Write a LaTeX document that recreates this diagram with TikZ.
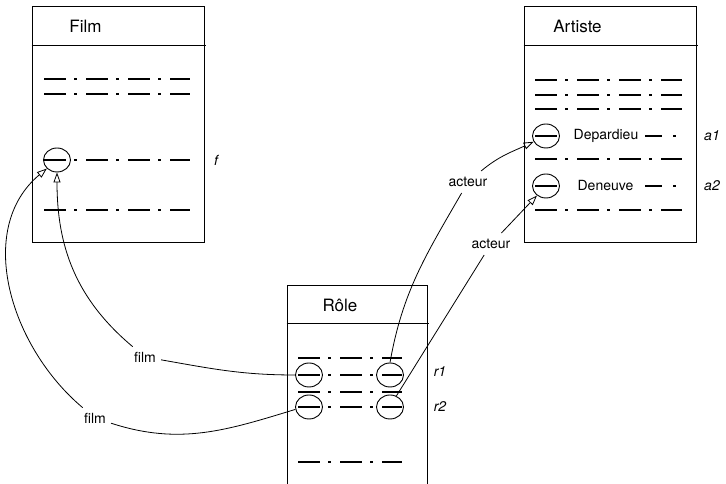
\documentclass[tikz,border=0pt]{standalone}
\usepackage{fontspec}
\setmainfont{TeX Gyre Heros}
\usetikzlibrary{arrows.meta, calc, positioning, shapes}

\tikzset{
  tablebox/.style={draw, line width=0.9pt, inner sep=0pt},
  headline/.style={line width=0.9pt},
  attrline/.style={line width=2.2pt, dash pattern=on 22pt off 8pt on 3pt off 9pt},
  keyoval/.style={draw, ellipse, line width=0.9pt, minimum width=27pt, minimum height=24pt, inner sep=0pt},
  tabletitle/.style={font=\fontsize{17}{20}\selectfont},
  valuetext/.style={font=\fontsize{14}{16}\selectfont, inner sep=1pt},
  linklabel/.style={font=\fontsize{14}{16}\selectfont, inner sep=6pt},
  tuplename/.style={font=\fontsize{14}{16}\selectfont\itshape},
  link/.style={line width=0.8pt},
  reflink/.style={line width=0.8pt, -{Triangle[open, length=10pt, width=7pt]}},
}

\begin{document}
\begin{tikzpicture}[x=1pt, y=1pt]
  \useasboundingbox (0,0) rectangle (726,484);

  % tables
  \node[tablebox, minimum width=172pt, minimum height=236pt] (Film) at (118,360) {};
  \node[tablebox, minimum width=172pt, minimum height=236pt] (Artiste) at (610,360) {};
  \node[tablebox, minimum width=140pt, minimum height=214pt] (Role) at (357,92) {};

  \draw[headline] ([yshift=-40pt]Film.north west) -- ([xshift=2pt, yshift=-40pt]Film.north east);
  \draw[headline] ([yshift=-40pt]Artiste.north west) -- ([xshift=2pt, yshift=-40pt]Artiste.north east);
  \draw[headline] ([yshift=-39pt]Role.north west) -- ([xshift=2pt, yshift=-39pt]Role.north east);

  \node[tabletitle] (FilmT) at (85.5,458) {Film};
  \node[tabletitle] (ArtisteT) at (577.5,458) {Artiste};
  \node[tabletitle] (RoleT) at (340,179) {Rôle};

  % Film rows
  \foreach \y in {405,390,324,274}
    \draw[attrline] (44,\y) -- (190,\y);
  \node[keyoval] (Fkey) at (57,324) {};
  \node[tuplename] (f) at (216,324) {f};

  % Artiste rows
  \foreach \y in {404,389,375,325,274}
    \draw[attrline] (535,\y) -- (682,\y);
  \draw[attrline] (535,348) -- (557,348);
  \draw[attrline] (535,298) -- (557,298);
  \node[keyoval] (Adep) at (546,348) {};
  \node[keyoval] (Aden) at (546,298) {};
  \node[valuetext] (Dep) at (606,348) {Depardieu};
  \node[valuetext] (Den) at (605.5,298) {Deneuve};
  \draw[line width=2.2pt] (645,348) -- (662,348) (673,348) -- (676,348);
  \draw[line width=2.2pt] (645,298) -- (662,298) (673,298) -- (676,298);
  \node[tuplename] (a1) at (712,348) {a1};
  \node[tuplename] (a2) at (712,298) {a2};

  % Role rows
  \foreach \y in {126,109,92,77,22}
    \draw[attrline] (298,\y) -- (402,\y);
  \node[keyoval] (R1a) at (309,109) {};
  \node[keyoval] (R1b) at (390,109) {};
  \node[keyoval] (R2a) at (309,77) {};
  \node[keyoval] (R2b) at (390,77) {};
  \node[tuplename] (r1) at (440,112) {r1};
  \node[tuplename] (r2) at (440,77) {r2};

  % references
  \node[linklabel] (act1) at (468,302) {acteur};
  \node[linklabel] (act2) at (491,240) {acteur};
  \node[linklabel, inner sep=5pt] (film1) at (145,127) {film};
  \node[linklabel, inner sep=5pt] (film2) at (95,66) {film};

  \draw[link] (R1b.north) to[out=80, in=240] (act1);
  \draw[reflink] (act1) to[out=40, in=205] (Adep);
  \draw[link] (R2b.60) -- (act2);
  \draw[reflink] (act2) -- (Aden);

  \draw[link] (R1a.west) to[out=180, in=-10] (film1);
  \draw[reflink] (film1) to[out=140, in=270] (Fkey);
  \draw[link] (R2a.190) to[out=197, in=-18] (film2);
  \draw[reflink] (film2) to[out=140, in=220] (Fkey);
\end{tikzpicture}
\end{document}
